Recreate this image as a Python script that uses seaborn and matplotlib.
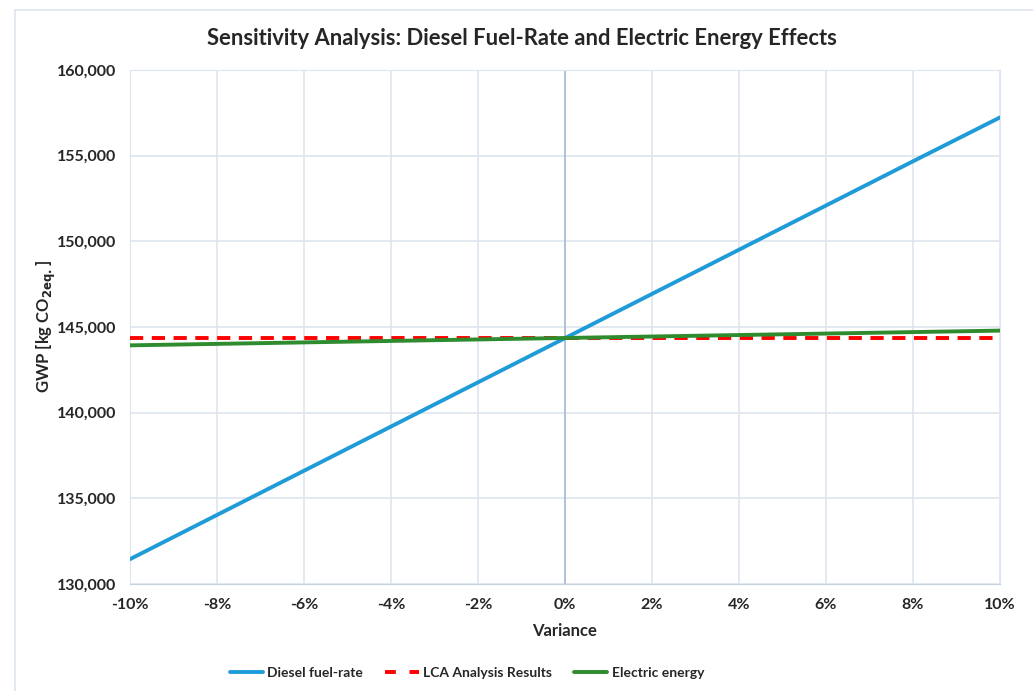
"""
Sensitivity analysis chart - diesel fuel-rate vs electric energy
"""
import numpy as np
import pandas as pd
import matplotlib.pyplot as plt
import matplotlib.ticker as mticker
from matplotlib.patches import Rectangle
import seaborn as sns

variance = [-10, -8, -6, -4, -2, 0, 2, 4, 6, 8, 10]
diesel = [131450, 134030, 136610, 139190, 141770, 144350,
          146930, 149510, 152090, 154670, 157230]
lca = [144380, 144380, 144380, 144380, 144380, 144380,
       144380, 144380, 144380, 144380, 144380]
electric = [143930, 144016, 144102, 144188, 144274, 144360,
            144446, 144532, 144618, 144704, 144790]

series_names = ["Diesel fuel-rate", "LCA Analysis Results", "Electric energy"]

df = pd.DataFrame({
    "Variance": variance * 3,
    "GWP": diesel + lca + electric,
    "Series": [series_names[0]] * len(variance)
              + [series_names[1]] * len(variance)
              + [series_names[2]] * len(variance),
})

sns.set_style("white")
plt.rcParams['font.family'] = ['Lato', 'DejaVu Sans']
plt.rcParams['font.weight'] = 'bold'

fig = plt.figure(figsize=(10.33, 6.91), dpi=100)
ax = fig.add_axes([0.1258, 0.1548, 0.8422, 0.7439])

# outer chart frame
fig.patches.append(Rectangle((15 / 1033, -0.05), 1.2, 1.05 - 10 / 691,
                             transform=fig.transFigure, fill=False,
                             edgecolor='#dde5ee', linewidth=1.2))

palette = {series_names[0]: '#1f9bd7', series_names[1]: '#ff0000',
           series_names[2]: '#2e8b2e'}
sns.lineplot(data=df, x="Variance", y="GWP", hue="Series", style="Series",
             palette=palette, dashes={series_names[0]: "", series_names[1]: (3.4, 2.2),
                                      series_names[2]: ""},
             linewidth=2.8, ax=ax, legend=False)
for line in ax.lines:
    line.set_zorder(3)

ax.set_xlim(-10, 10)
ax.set_ylim(130000, 160000)
ax.set_xticks(range(-10, 11, 2))
ax.set_yticks(range(130000, 160001, 5000))
ax.xaxis.set_major_formatter(mticker.FuncFormatter(lambda v, p: f"{int(v)}%"))
ax.yaxis.set_major_formatter(mticker.FuncFormatter(lambda v, p: f"{int(v):,}"))
ax.grid(True, color='#dde5ee', linewidth=1.2, zorder=0)
ax.axvline(0, color='#a9bccf', linewidth=1.2, zorder=1)
for side in ['top', 'right', 'left']:
    ax.spines[side].set_color('#dde5ee')
ax.spines['bottom'].set_color('#c5d3e0')
ax.tick_params(axis='both', length=0, labelsize=11.5, pad=10)
for lbl in ax.get_xticklabels() + ax.get_yticklabels():
    lbl.set_fontweight('bold')

ax.set_xlabel("Variance", fontsize=12, fontweight='bold', labelpad=8)
ax.set_ylabel(r"GWP [kg CO$_{\mathbf{2eq.}}$]", fontsize=12, fontweight='bold', labelpad=-1)
fig.text(0.505, 0.945, "Sensitivity Analysis: Diesel Fuel-Rate and Electric Energy Effects",
         ha='center', va='center', fontsize=15.8, fontweight='bold')

handles = [plt.Line2D([], [], color=palette[n], linewidth=2.8,
                      linestyle=(0, (2.8, 3.5)) if n == series_names[1] else '-')
           for n in series_names]
fig.legend(handles, series_names, loc='center', bbox_to_anchor=(0.452, 0.026),
           ncol=3, frameon=False, fontsize=10, handlelength=2.4,
           columnspacing=1.6, handletextpad=0.3)

plt.savefig("out.png", dpi=100)
